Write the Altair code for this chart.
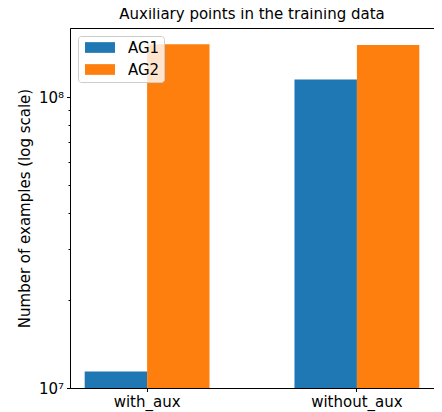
import math
import altair as alt

groups = ["with_aux", "without_aux"]
series = ["AG1", "AG2"]
ag1_values = [1.14e7, 1.15e8]
ag2_values = [1.52e8, 1.51e8]
colors = ["#1f77b4", "#ff7f0e"]
y_tick_values = [1e7, 2e7, 3e7, 4e7, 5e7, 6e7, 7e7, 8e7, 9e7, 1e8]
y_domain = [1e7, 1.728e8]

rows = []
for g, a, b in zip(groups, ag1_values, ag2_values):
    rows.append({"group": g, "series": "AG1", "n": float(a)})
    rows.append({"group": g, "series": "AG2", "n": float(b)})

log_ticks = [math.log10(v) for v in y_tick_values]
log_domain = [math.log10(v) for v in y_domain]

FONT = "DejaVu Sans"

chart = alt.Chart(alt.Data(values=rows)).transform_calculate(
    lv="log(datum.n) / LN10"
).mark_bar(clip=True).encode(
    x=alt.X("group:N", sort=groups,
            scale=alt.Scale(paddingInner=0.405, paddingOuter=0.07),
            axis=alt.Axis(title=None, labelAngle=0, tickSize=3.5, labelPadding=3,
                          labelFontSize=15, labelFont=FONT, labelColor="black",
                          tickColor="black", domainColor="black")),
    xOffset=alt.XOffset("series:N", sort=series,
                        scale=alt.Scale(paddingInner=0, paddingOuter=0)),
    y=alt.Y("lv:Q", stack=None,
            scale=alt.Scale(domain=log_domain, nice=False, zero=False),
            axis=alt.Axis(title="Number of examples (log scale)", values=log_ticks,
                          labelExpr="abs(datum.value - 7) < 1e-9 ? '10⁷' : (abs(datum.value - 8) < 1e-9 ? '10⁸' : '')",
                          labelOverlap=False, grid=False,
                          tickSize={"condition": {"test": "abs(datum.value - 7) < 1e-9 || abs(datum.value - 8) < 1e-9", "value": 3.5}, "value": 2},
                          labelPadding=3, labelFontSize=15, labelFont=FONT, labelColor="black",
                          tickColor="black", domainColor="black",
                          titleFontSize=15, titleFont=FONT, titleFontWeight="normal",
                          titleColor="black", titlePadding=6)),
    color=alt.Color("series:N", sort=series,
                    scale=alt.Scale(domain=series, range=colors),
                    legend=alt.Legend(title=None, orient="top-left", offset=8,
                                      symbolType="M-0.6,-0.714H3.4V0.714H-0.6Z", symbolSize=225,
                                      symbolStrokeWidth=0, symbolOpacity=1,
                                      labelFontSize=15, labelFont=FONT,
                                      labelColor="black", labelOffset=31, rowPadding=6,
                                      padding=4, cornerRadius=3, strokeColor="#cccccc",
                                      fillColor="rgba(255,255,255,0.8)")),
).properties(
    width=364,
    height=360,
    title=alt.TitleParams("Auxiliary points in the training data", fontSize=15,
                          font=FONT, fontWeight="normal", color="black", offset=6),
    autosize=alt.AutoSizeParams(type="none"),
    padding={"left": 62, "top": 20, "right": 0, "bottom": 30},
).configure_view(
    stroke="black", strokeWidth=1
)

chart.save("out.html", embed_options={"renderer": "svg", "actions": False})
